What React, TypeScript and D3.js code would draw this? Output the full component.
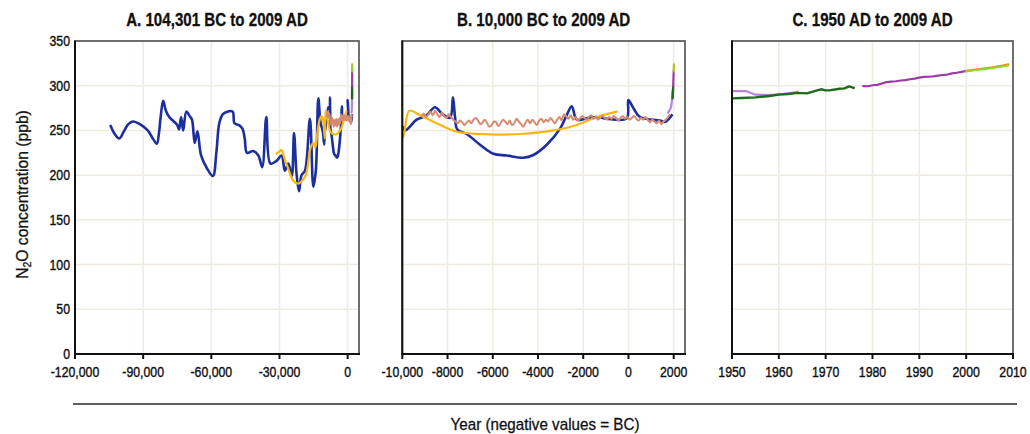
import React from 'react';
import * as d3 from 'd3';

// ---------- data ----------
const titles = ['A. 104,301 BC to 2009 AD', 'B. 10,000 BC to 2009 AD', 'C. 1950 AD to 2009 AD'];
const yTicks = [0, 50, 100, 150, 200, 250, 300, 350];
const ticksA = [-120000, -90000, -60000, -30000, 0];
const tickLabelsA = ['-120,000', '-90,000', '-60,000', '-30,000', '0'];
const ticksB = [-10000, -8000, -6000, -4000, -2000, 0, 2000];
const tickLabelsB = ['-10,000', '-8000', '-6000', '-4000', '-2000', '0', '2000'];
const ticksC = [1950, 1960, 1970, 1980, 1990, 2000, 2010];
const tickLabelsC = ['1950', '1960', '1970', '1980', '1990', '2000', '2010'];
const yAxisTitle = ['N', '2', 'O concentration (ppb)'];
const xAxisTitle = 'Year (negative values = BC)';

// Ice-core record (dark blue)
const blueYears = [
  -104300, -102500, -100500, -98500, -96500, -94500, -91500, -88000, -85500, -84000,
  -83000, -82300, -81200, -80000, -78500, -76500, -75000, -74200, -73300, -72400,
  -71000, -69500, -68500, -67300, -66100, -64500, -62000, -59300, -57800, -56500,
  -55000, -53000, -50600, -49800, -47800, -46300, -45300, -44300, -41500, -39300,
  -37600, -35800, -34000, -31300, -29100, -27600, -26100, -24600, -23600, -22500,
  -21400, -20300, -18800, -16600, -15100, -14000, -12900, -11900, -11000, -10300,
  -10000, -9880, -9363, -8920, -8554, -8257, -7890, -7760, -7669, -7567,
  -7152, -6563, -5975, -5383, -4648, -4206, -3613, -3025, -2729, -2508,
  -2287, -1845, -1401, -960, -75, -4, 217, 513, 1397, 1619, 1915,
];
const blueValues = [
  255, 246, 241, 249, 257, 260, 257, 250, 240, 235,
  248, 265, 283, 272, 265, 260, 256, 251, 265, 250,
  271, 266, 262, 236, 249, 222, 208, 199, 225, 258,
  268, 271, 271, 258, 256, 252, 241, 225, 227, 222,
  209, 265, 213, 216, 222, 205, 213, 199, 247, 202,
  182, 200, 205, 263, 187, 205, 286, 258, 250, 234,
  254, 250, 262, 267, 276, 269, 264, 287, 265, 251,
  246, 234, 224, 222, 219.5, 222.5, 234, 252, 267, 277,
  262, 263.5, 265, 263, 263.5, 284, 275, 265, 261, 259.5, 267,
];

// Smoothed record (yellow)
const yellowYears = [
  -31300, -30300, -29100, -28200, -27600, -26100, -24000, -21800, -20300, -18400,
  -17300, -16600, -15100, -14200, -13300, -12500, -11600, -10800, -10300, -10000,
  -9690, -9217, -8478, -7594, -6120, -4794, -3320, -2287, -1400, -516,
];
const yellowValues = [
  224, 226, 228, 222, 217, 207, 194, 190.5, 193, 200,
  215, 228, 236, 231, 248, 260, 266, 262, 248, 241,
  272, 267, 258, 248.5, 245.6, 246, 250, 256, 265, 271,
];

// High-resolution Holocene record (salmon)
const salmonYears = [
  -9150, -9050, -8950, -8850, -8750, -8650, -8550, -8450, -8350, -8250,
  -8150, -8050, -7950, -7850, -7750, -7650, -7550, -7450, -7350, -7250,
  -7150, -7050, -6950, -6850, -6750, -6650, -6550, -6450, -6350, -6250,
  -6150, -6050, -5950, -5850, -5750, -5650, -5550, -5450, -5350, -5250,
  -5150, -5050, -4950, -4850, -4750, -4650, -4550, -4450, -4350, -4250,
  -4150, -4050, -3950, -3850, -3750, -3650, -3550, -3450, -3350, -3250,
  -3150, -3050, -2950, -2850, -2750, -2650, -2550, -2450, -2350, -2250,
  -2150, -2050, -1950, -1850, -1750, -1650, -1550, -1450, -1350, -1250,
  -1150, -1050, -950, -850, -750, -650, -550, -450, -350, -250,
  -150, -50, 50, 150, 250, 350, 450, 550, 650, 750,
  850, 950, 1050, 1150, 1250, 1350, 1450, 1550, 1650, 1750, 1800,
];
const salmonValues = [
  266, 269, 265, 268, 271, 267, 272, 268, 265, 270,
  266, 264, 268, 265, 262, 260, 258, 261, 259, 256,
  259, 261, 258, 262, 264, 261, 257, 259, 262, 258,
  254, 256, 260, 259, 255, 258, 262, 260, 257, 261,
  256, 258, 263, 260, 257, 254, 259, 262, 258, 262,
  259, 256, 261, 263, 259, 262, 260, 264, 261, 258,
  262, 265, 261, 268, 266, 263, 267, 262, 265, 261,
  263, 266, 264, 262, 265, 267, 263, 265, 262, 264,
  266, 264, 262, 265, 263, 266, 264, 261, 264, 266,
  263, 265, 262, 264, 266, 263, 261, 264, 262, 265,
  262, 259, 262, 260, 258, 261, 257, 260, 262, 265, 267,
];

// Modern records
const lavenderYears = [1750, 1800, 1850, 1900, 1930, 1945, 1950, 1953, 1955, 1958, 1961, 1964];
const lavenderValues = [270, 272, 274, 278, 286, 293, 294, 294, 290, 289.5, 291, 293];

const greenYears = [1950, 1952, 1955, 1958, 1960, 1962, 1964, 1966, 1968, 1969, 1970, 1971, 1972, 1973, 1974, 1975, 1976];
const greenValues = [285.8, 286.2, 287, 288.5, 290, 290.8, 292, 291.4, 294.5, 296, 294.8, 295, 295.8, 296.6, 297, 299.3, 297.5];

const magentaYears = [1978, 1979, 1980, 1981, 1982, 1983, 1984, 1985, 1986, 1987, 1988, 1989, 1990, 1991, 1992, 1993, 1994, 1995, 1996, 1997, 1998, 1999, 2000];
const magentaValues = [299.6, 299.4, 300.5, 301, 302.5, 304, 304.5, 305, 305.8, 306.3, 307.2, 308, 309, 309.8, 310, 310.5, 311.2, 312, 312.5, 313.8, 314.5, 315.5, 316.5];

const orangeYears = [2000, 2002, 2004, 2006, 2008, 2009];
const orangeValues = [316.7, 318.2, 319.5, 321, 322.8, 324];

const limeYears = [2000, 2002, 2004, 2006, 2008, 2009];
const limeValues = [316, 317.5, 318.8, 320.2, 321.8, 322.6];

// ---------- layout ----------
const W = 1030;
const H = 434;
const TOP = 41;
const BOTTOM = 354;
const FONT = "'Liberation Sans', Arial, Helvetica, sans-serif";

type Panel = {
  id: string;
  title: string;
  range: [number, number];
  domain: [number, number];
  ticks: number[];
  labels: string[];
  showY: boolean;
};

const panels: Panel[] = [
  { id: 'A', title: titles[0], range: [75, 359], domain: [-120000, 5000], ticks: ticksA, labels: tickLabelsA, showY: true },
  { id: 'B', title: titles[1], range: [402.3, 685], domain: [-10000, 2500], ticks: ticksB, labels: tickLabelsB, showY: false },
  { id: 'C', title: titles[2], range: [732, 1013], domain: [1950, 2010], ticks: ticksC, labels: tickLabelsC, showY: false },
];

type Series = { years: number[]; values: number[]; color: string; width: number; smooth: boolean };

const series: Series[] = [
  { years: blueYears, values: blueValues, color: '#1b2f9e', width: 2.6, smooth: true },
  { years: yellowYears, values: yellowValues, color: '#f9b80f', width: 2.2, smooth: true },
  { years: salmonYears, values: salmonValues, color: '#d68a70', width: 2.0, smooth: true },
  { years: lavenderYears, values: lavenderValues, color: '#b784d9', width: 2.2, smooth: false },
  { years: greenYears, values: greenValues, color: '#1e6a1e', width: 2.4, smooth: false },
  { years: magentaYears, values: magentaValues, color: '#9c3aa6', width: 2.2, smooth: false },
  { years: orangeYears, values: orangeValues, color: '#f58f1f', width: 2.0, smooth: false },
  { years: limeYears, values: limeValues, color: '#8ed42b', width: 2.0, smooth: false },
];

export default function App() {
  const y = d3.scaleLinear().domain([0, 350]).range([BOTTOM, TOP]);

  return (
    <svg width={W} height={H} style={{ position: 'absolute', left: 0, top: 0, background: '#fff' }}>
      <defs>
        {panels.map((p) => (
          <clipPath id={`clip-${p.id}`} key={p.id}>
            <rect x={p.range[0]} y={TOP} width={p.range[1] - p.range[0]} height={BOTTOM - TOP} />
          </clipPath>
        ))}
      </defs>
      {panels.map((p) => {
        const x = d3.scaleLinear().domain(p.domain).range(p.range);
        const cx = (p.range[0] + p.range[1]) / 2;
        return (
          <g key={p.id}>
            {/* grid */}
            {yTicks.filter((t) => t > 0 && t < 350).map((t) => (
              <line key={`gy${t}`} x1={p.range[0]} x2={p.range[1]} y1={y(t)} y2={y(t)} stroke="#f0ebe1" strokeWidth={1.5} />
            ))}
            {p.ticks.filter((t) => x(t) > p.range[0] + 2 && x(t) < p.range[1] - 2).map((t) => (
              <line key={`gx${t}`} x1={x(t)} x2={x(t)} y1={TOP} y2={BOTTOM} stroke="#f0ebe1" strokeWidth={1.5} />
            ))}
            {/* data */}
            <g clipPath={`url(#clip-${p.id})`}>
              {series.map((s, i) => {
                const pts = s.years.map((yr, k) => [yr, s.values[k]] as [number, number]);
                const gen = d3
                  .line<[number, number]>()
                  .x((d) => x(d[0]))
                  .y((d) => y(d[1]))
                  .curve(s.smooth ? d3.curveCatmullRom.alpha(0.5) : d3.curveLinear);
                return (
                  <path key={i} d={gen(pts) || ''} fill="none" stroke={s.color} strokeWidth={s.width} strokeLinejoin="round" strokeLinecap="round" />
                );
              })}
            </g>
            {/* frame */}
            <rect x={p.range[0]} y={TOP} width={p.range[1] - p.range[0]} height={BOTTOM - TOP} fill="none" stroke="#4d4d4d" strokeWidth={1.6} />
            <line x1={p.range[0]} x2={p.range[0]} y1={TOP - 0.5} y2={BOTTOM + 1} stroke="#111" strokeWidth={2} />
            <line x1={p.range[0] - 1} x2={p.range[1] + 1} y1={BOTTOM} y2={BOTTOM} stroke="#111" strokeWidth={2} />
            {/* x ticks */}
            {p.ticks.map((t, i) => (
              <g key={`xt${t}`}>
                <line x1={x(t)} x2={x(t)} y1={BOTTOM} y2={BOTTOM + 5} stroke="#111" strokeWidth={2} />
                <text
                  transform={`translate(${x(t)},${BOTTOM + 22.5}) scale(0.82,1)`}
                  textAnchor="middle"
                  fontFamily={FONT}
                  fontSize={15}
                  fill="#111"
                  stroke="#111"
                  strokeWidth={0.4}
                >
                  {p.labels[i]}
                </text>
              </g>
            ))}
            {/* y tick labels */}
            {p.showY &&
              yTicks.map((t) => (
                <text
                  key={`yt${t}`}
                  transform={`translate(70,${y(t) + 5}) scale(0.82,1)`}
                  textAnchor="end"
                  fontFamily={FONT}
                  fontSize={15}
                  fill="#111"
                  stroke="#111"
                  strokeWidth={0.4}
                >
                  {t}
                </text>
              ))}
            {/* title */}
            <text
              transform={`translate(${cx},26) scale(0.84,1)`}
              textAnchor="middle"
              fontFamily={FONT}
              fontWeight="bold"
              fontSize={18}
              fill="#111"
              stroke="#111"
              strokeWidth={0.3}
            >
              {p.title}
            </text>
          </g>
        );
      })}
      {/* y axis title */}
      <text
        transform={`translate(27.5,194.5) rotate(-90) scale(0.95,1)`}
        textAnchor="middle"
        fontFamily={FONT}
        fontSize={16.5}
        fill="#111"
        stroke="#111"
        strokeWidth={0.3}
      >
        {yAxisTitle[0]}
        <tspan dy={3} fontSize={11}>{yAxisTitle[1]}</tspan>
        <tspan dy={-3}>{yAxisTitle[2]}</tspan>
      </text>
      {/* separator rule */}
      <line x1={73} x2={1017} y1={404} y2={404} stroke="#2a2a2a" strokeWidth={1.6} />
      {/* x axis title */}
      <text
        transform={`translate(545,430) scale(0.95,1)`}
        textAnchor="middle"
        fontFamily={FONT}
        fontSize={16}
        fill="#111"
        stroke="#111"
        strokeWidth={0.3}
      >
        {xAxisTitle}
      </text>
    </svg>
  );
}
